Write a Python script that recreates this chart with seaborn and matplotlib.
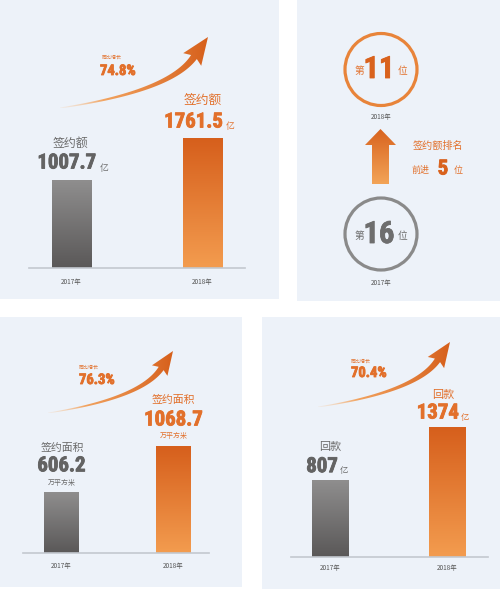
import os
import numpy as np
import pandas as pd
import matplotlib
matplotlib.use("Agg")
import matplotlib.pyplot as plt
import matplotlib.patheffects as pe
import seaborn as sns
from matplotlib.patches import Rectangle, Circle, Polygon
from matplotlib.colors import to_rgba
from matplotlib import font_manager as fm

# ---------------- data ----------------
years = ["2017年", "2018年"]
sign_amount = [1007.7, 1761.5]      # 签约额 (亿)
sign_area = [606.2, 1068.7]         # 签约面积 (万平方米)
payback = [807, 1374]               # 回款 (亿)
growth_labels = ["74.8%", "76.3%", "70.4%"]
ranks = [16, 11]                    # 2017, 2018 ranking
rank_gain = 5

# ---------------- style ----------------
sns.set_theme(style="white")
plt.rcParams['font.family'] = ['Noto Sans CJK SC', 'DejaVu Sans']


def _key(path):
    b = os.path.splitext(os.path.basename(path))[0].lower()
    for ch in '-_ ':
        b = b.replace(ch, '')
    return b


_files = {_key(f.fname): f.fname for f in fm.fontManager.ttflist}
_pref = ['liberationsansnarrowbold', 'robotocondensedbold', 'notosanscondensedbold',
         'opensanscondensedbold', 'notosansextracondensedbold', 'notosanssemicondensedbold',
         'dejavusanscondensedbold']
NUM_FILE = None
for p in _pref:
    if p in _files:
        NUM_FILE = _files[p]
        break


def numfont(size, color):
    if NUM_FILE:
        fp = fm.FontProperties(fname=NUM_FILE, size=size)
    else:
        fp = fm.FontProperties(family='DejaVu Sans', weight='bold',
                               stretch='condensed', size=size * 0.8)
    return dict(fontproperties=fp, color=color,
                path_effects=[pe.withStroke(linewidth=0.6, foreground=color)])


PANEL = '#edf2f9'
OR_TXT = '#e2702b'
OR_DARK = '#d9621d'
GR_TXT = '#6b6b6b'
GR_NUM = '#636363'
BASE = '#c3c8cf'
GRAY_GRAD = ('#8f8e8e', '#5a5858')
ORANGE_GRAD = ('#d65f1c', '#f39c4f')

W, H = 500, 589
fig = plt.figure(figsize=(W / 100, H / 100), dpi=100)
fig.patch.set_facecolor('white')
bg = fig.add_axes([0, 0, 1, 1])
bg.set_zorder(0)
bg.axis('off')

for (x0, y0, x1, y1) in [(0, 0, 279, 299), (297, 0, 500, 301),
                         (0, 317, 242, 587), (262, 317, 500, 589)]:
    bg.add_patch(Rectangle((x0, y0), x1 - x0, y1 - y0, facecolor=PANEL,
                           edgecolor='none', zorder=0))


def vgrad(x0, ytop, x1, ybot, ctop, cbot, zorder=2, clip=None):
    c0 = np.array(to_rgba(ctop))
    c1 = np.array(to_rgba(cbot))
    t = np.linspace(0, 1, 256)[:, None]
    img = (c0 * (1 - t) + c1 * t)[:, None, :]
    im = bg.imshow(img, extent=[x0, x1, ybot, ytop], origin='upper',
                   aspect='auto', interpolation='bilinear', zorder=zorder)
    if clip is not None:
        im.set_clip_path(clip)
    return im


def make_bar_axes(x0, x1, ybase, ytop):
    ax = fig.add_axes([x0 / W, 1 - ybase / H, (x1 - x0) / W, (ybase - ytop) / H])
    ax.set_zorder(1)
    ax.patch.set_alpha(0)
    return ax


def draw_bars(ax, values, width, xlim, ylim, log=False, pad=7):
    df = pd.DataFrame({'year': years, 'value': values})
    sns.barplot(data=df, x='year', y='value', ax=ax, width=width,
                color='#888888', saturation=1, errorbar=None)
    if log:
        ax.set_yscale('log')
    ax.set_xlim(*xlim)
    ax.set_ylim(*ylim)
    ax.set_xlabel('')
    ax.set_ylabel('')
    ax.tick_params(axis='y', which='both', left=False, labelleft=False)
    ax.tick_params(axis='x', length=0, pad=pad, labelsize=4.6, labelcolor='#555555')
    for s in ['top', 'right', 'left']:
        ax.spines[s].set_visible(False)
    ax.spines['bottom'].set_color(BASE)
    ax.spines['bottom'].set_linewidth(1.2)
    axbox = ax.get_window_extent()
    for patch, (ctop, cbot) in zip(ax.patches, [GRAY_GRAD, ORANGE_GRAD]):
        patch.set_facecolor('none')
        patch.set_edgecolor('none')
        bb = patch.get_window_extent()
        yb = max(bb.y0, axbox.y0)
        vgrad(bb.x0, H - bb.y1, bb.x1, H - yb, ctop, cbot, zorder=2)


def annot(ax, i, val, dx, dy, s, ha='center', **kw):
    ax.annotate(s, xy=(i, val), xytext=(dx, dy), textcoords='offset pixels',
                ha=ha, va='center', annotation_clip=False, **kw)


def curved_arrow(tail, tip, scale=1.0):
    T = np.array(tail, float)
    P = np.array(tip, float)
    d = P - T
    B = T + d * np.array([0.905, 0.718])
    C = T + d * np.array([0.743, 0.232])
    t = np.linspace(0, 1, 90)[:, None]
    curve = (1 - t) ** 2 * T + 2 * (1 - t) * t * C + t ** 2 * B
    der = 2 * (1 - t) * (C - T) + 2 * t * (B - C)
    tan = der / np.linalg.norm(der, axis=1, keepdims=True)
    nrm = np.column_stack([-tan[:, 1], tan[:, 0]])
    hws = (0.5 + 3.0 * t[:, 0] ** 1.2) * scale
    L = curve + nrm * hws[:, None]
    R = curve - nrm * hws[:, None]
    n = (P - B) / np.linalg.norm(P - B)
    perp = np.array([-n[1], n[0]])
    hw = 11 * scale
    poly = np.vstack([L, B + perp * hw - n * 3 * scale, P,
                      B - perp * hw - n * 3 * scale, R[::-1]])
    patch = Polygon(poly, closed=True, facecolor='none', edgecolor='none')
    bg.add_patch(patch)
    xs = np.linspace(0, 1, 256)
    stops = [0, 0.3, 1]
    cols = np.array([(0.98, 0.78, 0.58, 0.15), (0.95, 0.60, 0.30, 0.9),
                     (0.84, 0.37, 0.10, 1.0)])
    img = np.stack([np.interp(xs, stops, cols[:, k]) for k in range(4)], axis=1)[None, :, :]
    xmin, ymin = poly.min(0)
    xmax, ymax = poly.max(0)
    im = bg.imshow(img, extent=[xmin, xmax, ymax, ymin], aspect='auto',
                   interpolation='bilinear', zorder=3)
    im.set_clip_path(patch)


# ---------------- Panel A: 签约额 ----------------
axA = make_bar_axes(29, 245, 268, 0)
draw_bars(axA, sign_amount, 0.298, (-0.3244, 1.3244), (304, 11696), log=True, pad=7.3)
annot(axA, 0, sign_amount[0], -1, 37, '签约额', fontsize=8.6, color=GR_TXT)
annot(axA, 0, sign_amount[0], 25, 17, f"{sign_amount[0]}", ha='right', **numfont(15, GR_NUM))
annot(axA, 0, sign_amount[0], 28, 12, '亿', ha='left', fontsize=6.3, color=GR_TXT)
annot(axA, 1, sign_amount[1], 0, 39, '签约额', fontsize=9.2, color=OR_TXT)
annot(axA, 1, sign_amount[1], 20.5, 17, f"{sign_amount[1]}", ha='right', **numfont(15, OR_TXT))
annot(axA, 1, sign_amount[1], 23, 12, '亿', ha='left', fontsize=6.3, color=OR_TXT)
curved_arrow((60, 108), (208, 37), 1.0)
bg.text(102, 57, '同比增长', fontsize=3.6, color=OR_TXT, ha='left', va='center', zorder=4)
bg.text(100, 71, growth_labels[0], ha='left', va='center', zorder=4, **numfont(10.5, OR_TXT))

# ---------------- Panel C: 签约面积 ----------------
axC = make_bar_axes(23, 209, 553, 317)
draw_bars(axC, sign_area, 0.3125, (-0.344, 1.317), (0, 2379), pad=6.7)
annot(axC, 0, sign_area[0], 0.5, 45, '签约面积', fontsize=7.8, color=GR_TXT)
annot(axC, 0, sign_area[0], 0, 27, f"{sign_area[0]}", **numfont(15, GR_NUM))
annot(axC, 0, sign_area[0], 0, 10, '万平方米', fontsize=5, color=GR_TXT)
annot(axC, 1, sign_area[1], -0.5, 47, '签约面积', fontsize=7.8, color=OR_TXT)
annot(axC, 1, sign_area[1], 0, 27, f"{sign_area[1]}", **numfont(15, OR_TXT))
annot(axC, 1, sign_area[1], 0, 11, '万平方米', fontsize=5, color=OR_TXT)
curved_arrow((48, 413), (173, 351), 0.85)
bg.text(79, 367, '同比增长', fontsize=3.6, color=OR_TXT, ha='left', va='center', zorder=4)
bg.text(79, 380, growth_labels[1], ha='left', va='center', zorder=4, **numfont(10.5, OR_TXT))

# ---------------- Panel D: 回款 ----------------
axD = make_bar_axes(291, 488, 557, 317)
draw_bars(axD, payback, 0.31, (-0.332, 1.345), (0, 2537), pad=5.3)
annot(axD, 0, payback[0], 0, 34, '回款', fontsize=8, color=GR_TXT)
annot(axD, 0, payback[0], 8, 14, f"{payback[0]}", ha='right', **numfont(15, GR_NUM))
annot(axD, 0, payback[0], 10, 10, '亿', ha='left', fontsize=6, color=GR_TXT)
annot(axD, 1, payback[1], -4.5, 32, '回款', fontsize=8, color=OR_TXT)
annot(axD, 1, payback[1], 11.5, 14, f"{payback[1]}", ha='right', **numfont(15, OR_TXT))
annot(axD, 1, payback[1], 13.5, 10, '亿', ha='left', fontsize=6, color=OR_TXT)
curved_arrow((318, 407), (450, 342), 0.9)
bg.text(351, 361, '同比增长', fontsize=3.6, color=OR_TXT, ha='left', va='center', zorder=4)
bg.text(351, 373, growth_labels[2], ha='left', va='center', zorder=4, **numfont(10.5, OR_TXT))

# ---------------- Panel B: ranking ----------------
bg.add_patch(Circle((381, 69.5), 36, fill=False, edgecolor='#e8843a', lw=2.3, zorder=3))
bg.add_patch(Circle((381, 234), 36, fill=False, edgecolor='#8a8a8a', lw=2.3, zorder=3))
bg.text(359, 71, '第', fontsize=7, color=OR_TXT, ha='center', va='center', zorder=4)
bg.text(379, 69, f"{ranks[1]}", ha='center', va='center', zorder=4, **numfont(22, OR_DARK))
bg.text(403, 71, '位', fontsize=7, color=OR_TXT, ha='center', va='center', zorder=4)
bg.text(381, 117, years[1], fontsize=4.6, color='#555555', ha='center', va='center', zorder=4)
bg.text(359, 236, '第', fontsize=7, color=GR_TXT, ha='center', va='center', zorder=4)
bg.text(379, 234, f"{ranks[0]}", ha='center', va='center', zorder=4, **numfont(22, '#6e6e6e'))
bg.text(403, 236, '位', fontsize=7, color=GR_TXT, ha='center', va='center', zorder=4)
bg.text(381, 283, years[0], fontsize=4.6, color='#555555', ha='center', va='center', zorder=4)

up = np.array([[372, 184], [372, 145], [365, 145], [380.5, 129],
               [396, 145], [389, 145], [389, 184]])
up_patch = Polygon(up, closed=True, facecolor='none', edgecolor='none')
bg.add_patch(up_patch)
vgrad(365, 129, 396, 184, '#d8631f', '#f3a457', zorder=3, clip=up_patch)

bg.text(438, 146, '签约额排名', fontsize=7.3, color=OR_TXT, ha='center', va='center', zorder=4)
bg.text(421, 170, '前进', fontsize=6.5, color=OR_TXT, ha='center', va='center', zorder=4)
bg.text(443, 169, f"{rank_gain}", ha='center', va='center', zorder=4, **numfont(15, OR_DARK))
bg.text(458, 170, '位', fontsize=6.5, color=OR_TXT, ha='center', va='center', zorder=4)

bg.set_xlim(0, W)
bg.set_ylim(H, 0)

fig.savefig('out.png', dpi=100, facecolor='white')
